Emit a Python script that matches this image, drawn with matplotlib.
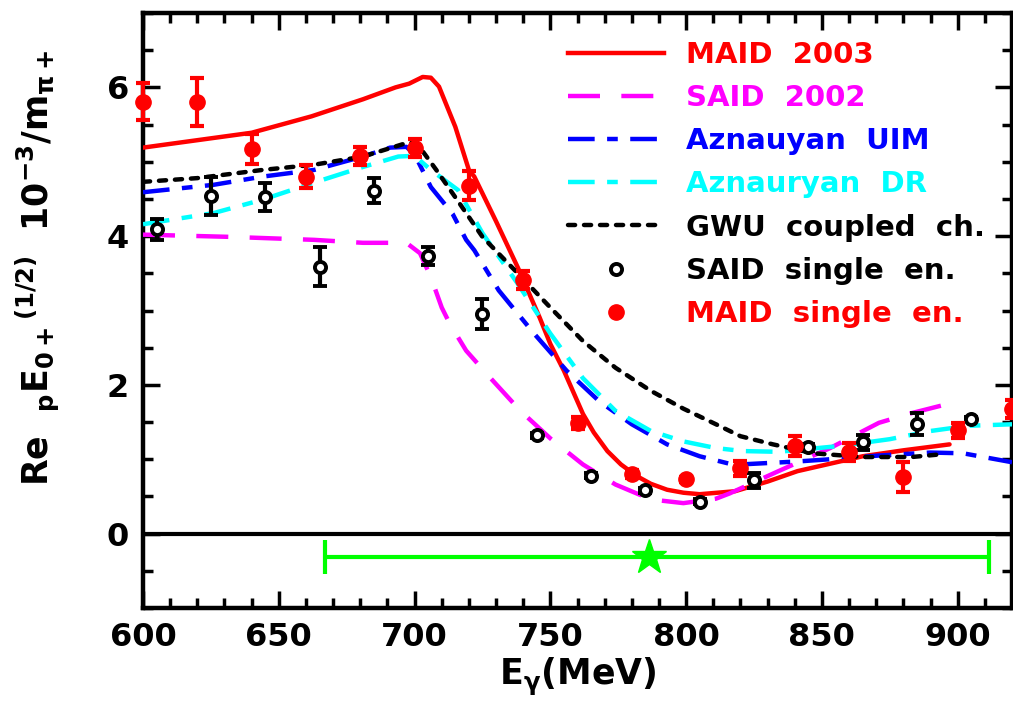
import matplotlib
matplotlib.use("Agg")
import matplotlib.pyplot as plt
from matplotlib.lines import Line2D
from matplotlib.ticker import MultipleLocator

plt.rcParams['font.family'] = ['DejaVu Sans']
plt.rcParams['font.weight'] = 'bold'
plt.rcParams['axes.labelweight'] = 'bold'
plt.rcParams['mathtext.fontset'] = 'custom'
plt.rcParams['mathtext.rm'] = 'DejaVu Sans:bold'
plt.rcParams['mathtext.it'] = 'DejaVu Sans:bold'
plt.rcParams['mathtext.bf'] = 'DejaVu Sans:bold'

# ---- data ----
maid03_E = [600, 620, 640, 662, 681, 693, 698, 703, 706, 709, 715, 720, 722, 730, 738, 746, 750,
            755, 762, 766, 771, 776, 782, 787, 793, 799, 805, 818, 830, 841, 853, 865, 880, 897]
maid03_y = [5.19, 5.29, 5.39, 5.61, 5.84, 6.00, 6.05, 6.14, 6.13, 6.01, 5.47, 4.89, 4.80, 4.20, 3.58, 2.91, 2.55,
            2.19, 1.61, 1.36, 1.11, 0.93, 0.77, 0.67, 0.59, 0.55, 0.53, 0.57, 0.70, 0.84, 0.94, 1.04, 1.12, 1.20]

said02_E = [600, 632, 663, 681, 697, 702, 706, 710, 713, 719, 728, 739, 750, 762, 774, 787,
            799, 811, 816, 834, 853, 871, 883, 896]
said02_y = [4.02, 3.99, 3.95, 3.91, 3.91, 3.77, 3.45, 3.04, 2.82, 2.46, 2.09, 1.65, 1.28, 0.93, 0.66, 0.46,
            0.41, 0.47, 0.54, 0.84, 1.15, 1.49, 1.62, 1.74]

uim_E = [600, 626, 644, 663, 681, 691, 697, 700, 706, 714, 719, 722, 731, 744, 756, 768,
         780, 793, 805, 817, 820, 841, 857, 871, 890, 902, 920]
uim_y = [4.59, 4.69, 4.80, 4.89, 5.07, 5.19, 5.20, 5.10, 4.66, 4.30, 3.95, 3.81, 3.27, 2.69, 2.19, 1.78,
         1.47, 1.20, 1.04, 0.93, 0.93, 0.97, 1.01, 1.05, 1.09, 1.08, 0.96]

dr_E = [600, 626, 644, 663, 681, 694, 700, 706, 716, 725, 738, 750, 762, 774, 787, 799,
        811, 821, 834, 857, 875, 890, 904, 920]
dr_y = [4.16, 4.31, 4.49, 4.72, 4.93, 5.07, 5.08, 4.89, 4.62, 4.04, 3.36, 2.69, 2.09, 1.65, 1.38, 1.24,
        1.15, 1.11, 1.10, 1.18, 1.27, 1.38, 1.45, 1.47]

gwu_E = [600, 620, 644, 663, 681, 696, 700, 703, 708, 716, 725, 738, 750, 762, 774, 787,
         799, 811, 820, 832, 847, 865, 883, 895]
gwu_y = [4.73, 4.78, 4.89, 4.96, 5.07, 5.24, 5.26, 5.14, 4.89, 4.47, 3.99, 3.50, 3.04, 2.59, 2.23, 1.92,
         1.68, 1.47, 1.31, 1.20, 1.08, 1.03, 1.03, 1.07]

said_pts_E = [605, 625, 645, 665, 685, 705, 725, 745, 765, 785, 805, 825, 845, 865, 885, 905]
said_pts_y = [4.09, 4.54, 4.53, 3.59, 4.61, 3.73, 2.95, 1.32, 0.78, 0.58, 0.43, 0.72, 1.16, 1.23, 1.47, 1.54]
said_pts_err = [0.14, 0.25, 0.19, 0.26, 0.17, 0.12, 0.20, 0.03, 0.03, 0.03, 0.03, 0.10, 0.05, 0.10, 0.15, 0.03]

maid_pts_E = [600, 620, 640, 660, 680, 700, 720, 740, 760, 780, 800, 820, 840, 860, 880, 900, 920]
maid_pts_y = [5.81, 5.80, 5.17, 4.80, 5.08, 5.19, 4.68, 3.41, 1.49, 0.80, 0.73, 0.88, 1.18, 1.10, 0.76, 1.39, 1.67]
maid_pts_err = [0.25, 0.32, 0.20, 0.15, 0.12, 0.12, 0.19, 0.12, 0.08, 0.05, 0.03, 0.10, 0.13, 0.12, 0.20, 0.10, 0.12]

band_center = 786.5
band_lo = 667
band_hi = 911.5
band_y = -0.31

labels = ['MAID  2003', 'SAID  2002', 'Aznauyan  UIM', 'Aznauryan  DR',
          'GWU  coupled  ch.', 'SAID  single  en.', 'MAID  single  en.']

# ---- figure ----
fig = plt.figure(figsize=(10.13, 7.22), dpi=100)
ax = fig.add_axes([143/1013, 1-608/722, (1012-143)/1013, (608-13)/722])

lw = 3.2
dot_style = dict(dashes=(1.6, 2.0), dash_capstyle='round')
ax.plot(maid03_E, maid03_y, color='#ff0000', lw=lw, solid_capstyle='round', zorder=3)
ax.plot(said02_E, said02_y, color='#ff00ff', lw=lw, dashes=(7.2, 4.8), zorder=3)
ax.plot(uim_E, uim_y, color='#0000ff', lw=lw, dashes=(6, 2.8, 2.4, 2.8), zorder=3)
ax.plot(dr_E, dr_y, color='#00ffff', lw=lw, dashes=(6, 2.8, 2.4, 2.8), zorder=3)
ax.plot(gwu_E, gwu_y, color='black', lw=lw, zorder=3, **dot_style)

ax.axhline(0, color='black', lw=3, zorder=2)

ax.errorbar(said_pts_E, said_pts_y, yerr=said_pts_err, fmt='o', color='black',
            mfc='white', mec='black', ms=8, mew=2.8, elinewidth=3, capsize=5, capthick=3, zorder=5)
eb = ax.errorbar(maid_pts_E, maid_pts_y, yerr=maid_pts_err, fmt='o', color='#ff0000',
                 ms=11, elinewidth=3, capsize=5, capthick=3, zorder=6)
eb[0].set_clip_on(False)
for art in list(eb[1]) + list(eb[2]):
    art.set_clip_on(False)

ax.errorbar([band_center], [band_y], xerr=[[band_center-band_lo], [band_hi-band_center]],
            fmt='*', color='#00ff00', ms=26, elinewidth=3, capsize=12, capthick=3, zorder=4)

ax.set_xlim(600, 920)
ax.set_ylim(-1, 7)
ax.xaxis.set_major_locator(MultipleLocator(50))
ax.xaxis.set_minor_locator(MultipleLocator(10))
ax.yaxis.set_major_locator(MultipleLocator(2))
ax.yaxis.set_minor_locator(MultipleLocator(0.5))
ax.tick_params(which='both', direction='in', top=True, right=True, width=2.5, labelsize=23)
ax.tick_params(which='major', length=12, pad=10)
ax.tick_params(which='minor', length=7)
for s in ax.spines.values():
    s.set_linewidth(3.2)

ax.set_xlabel(r'E$_{\gamma}$(MeV)', fontsize=25, fontweight='bold', labelpad=2)
fig.text(38/1013, 1-268/722,
         r'Re  $_{\rm p}$E$_{\rm 0+}$$^{\rm (1/2)}$  10$^{-3}$/m$_{\pi+}$',
         rotation=90, ha='center', va='center', fontsize=25, fontweight='bold')

handles = [
    Line2D([], [], color='#ff0000', lw=lw),
    Line2D([], [], color='#ff00ff', lw=lw, dashes=(7.2, 4.8)),
    Line2D([], [], color='#0000ff', lw=lw, dashes=(6, 2.8, 2.4, 2.8)),
    Line2D([], [], color='#00ffff', lw=lw, dashes=(6, 2.8, 2.4, 2.8)),
    Line2D([], [], color='black', lw=lw, **dot_style),
    Line2D([], [], ls='none', marker='o', mfc='white', mec='black', ms=8, mew=2.8),
    Line2D([], [], ls='none', marker='o', color='#ff0000', ms=11),
]
colors = ['#ff0000', '#ff00ff', '#0000ff', '#00ffff', 'black', 'black', '#ff0000']
leg = ax.legend(handles, labels, loc='upper left', bbox_to_anchor=((568-143)/869, 1-(41-13)/595),
                frameon=False, fontsize=21, handlelength=3.3, handletextpad=0.75,
                labelspacing=0.52, borderaxespad=0, borderpad=0)
for t, c in zip(leg.get_texts(), colors):
    t.set_color(c)

fig.savefig('out.png', dpi=100)
